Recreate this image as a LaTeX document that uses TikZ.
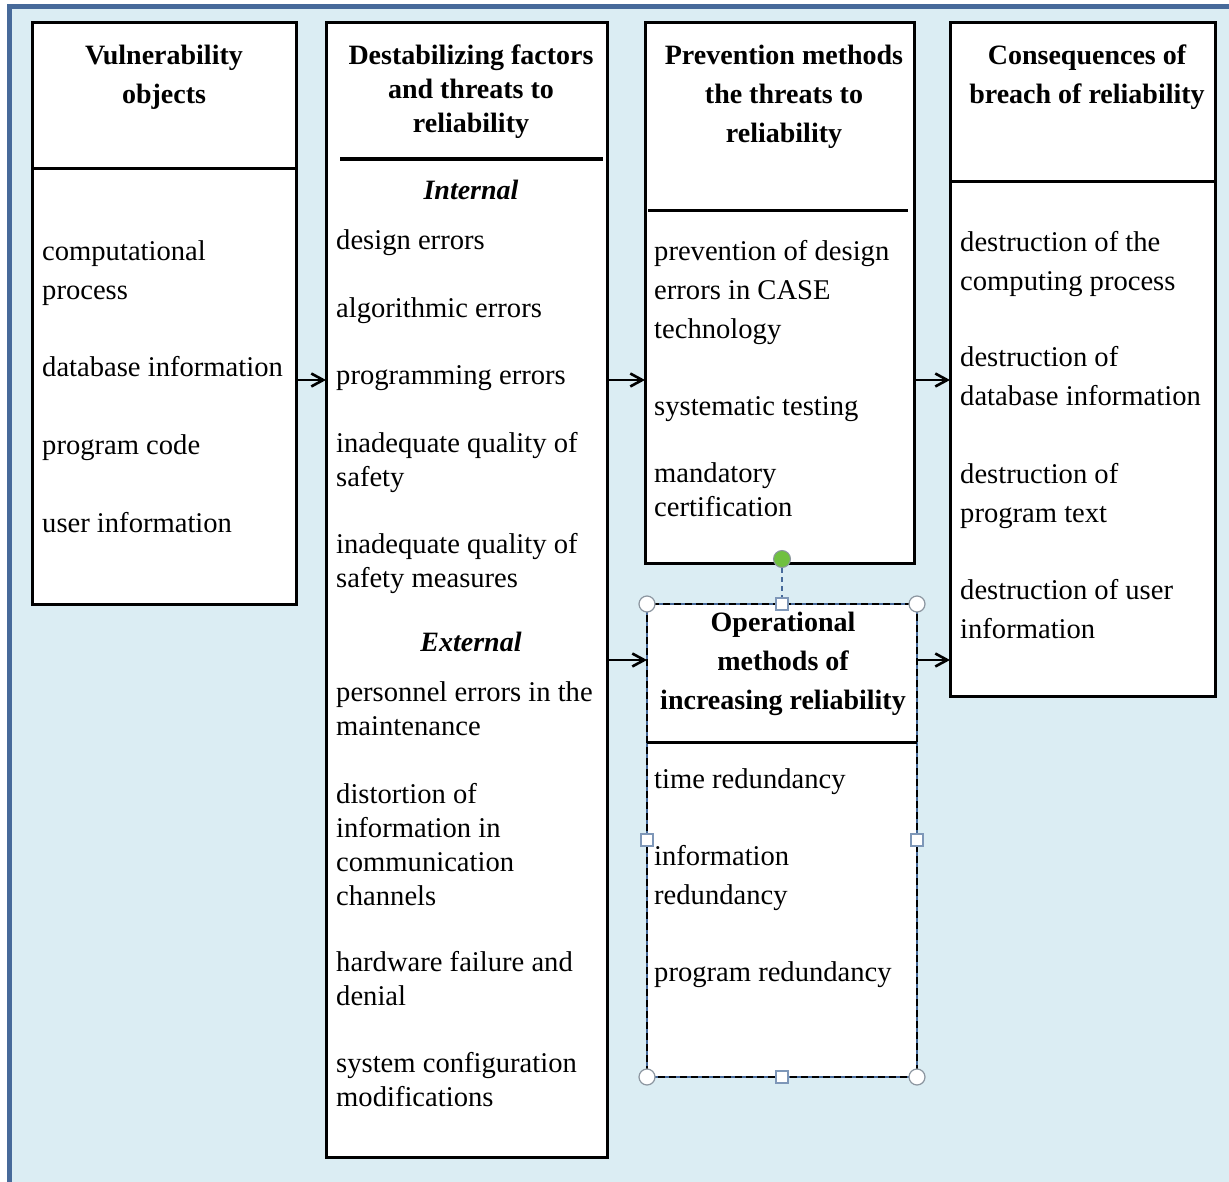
\documentclass[tikz,border=0pt]{standalone}
\usepackage{fontspec}
\setmainfont{Liberation Serif}
\usetikzlibrary{arrows.meta}
\definecolor{panelblue}{RGB}{219,237,243}
\definecolor{frameblue}{RGB}{71,106,154}
\definecolor{handlegreen}{RGB}{112,192,64}
\definecolor{handlegray}{RGB}{140,150,160}

\begin{document}
\begin{tikzpicture}[
    x=1pt, y=-1pt,
    box/.style={draw, line width=3pt, fill=white, anchor=north west, inner sep=0pt, outer sep=0pt},
    head/.style={anchor=north, align=center, inner sep=0pt, font=\fontsize{28}{39}\selectfont\bfseries},
    group/.style={anchor=north, inner sep=0pt, font=\fontsize{28}{34}\selectfont\bfseries\itshape},
    item/.style={anchor=north west, align=left, inner sep=0pt, font=\fontsize{28.6}{39}\selectfont},
    tightitem/.style={item, font=\fontsize{28.6}{34}\selectfont},
    arrow/.style={-{Straight Barb[length=12pt, width=13pt, line width=2.6pt]}, line width=2.8pt},
    handle/.style={circle, draw=handlegray, fill=white, line width=1.2pt, minimum size=16pt, inner sep=0pt},
    grip/.style={rectangle, draw=frameblue!70, fill=white, line width=1.2pt, minimum size=12pt, inner sep=0pt}
]
\useasboundingbox (0,0) rectangle (1229,1182);

% page and frame
\fill[white] (0,0) rectangle (1229,1182);
\fill[panelblue] (7,4) rectangle (1229,1182);
\fill[frameblue] (7,4) rectangle (1229,9);
\fill[frameblue] (7,4) rectangle (12,1182);

% the five boxes
\node[box, minimum width=264pt, minimum height=581pt] (vuln) at (32,23) {};
\node[box, minimum width=281pt, minimum height=1134pt] (threat) at (326,23) {};
\node[box, minimum width=269pt, minimum height=540pt] (prevent) at (645,23) {};
\node[box, minimum width=265pt, minimum height=673pt] (conseq) at (950,23) {};
\node[box, draw=frameblue, line width=1.5pt, minimum width=270pt, minimum height=473pt] (operat) at (647,604) {};
\draw[line width=2.8pt, dash pattern=on 7pt off 4pt] (operat.north west) rectangle (operat.south east);

% dividers under the headings
\draw[line width=3pt] (32,169) -- (296,169);
\draw[line width=3.4pt] (340,159) -- (603,159);
\draw[line width=3pt] (648,211) -- (908,211);
\draw[line width=3pt] (950,182) -- (1215,182);
\draw[line width=3pt] (647,742) -- (917,742);

% headings
\node[head] (vulnhead) at (164,45) {Vulnerability\\objects};
\node[head, font=\fontsize{28}{34}\selectfont\bfseries] (threathead) at (471,45) {Destabilizing factors\\and threats to\\reliability};
\node[head] (preventhead) at (784,45) {Prevention methods\\the threats to\\reliability};
\node[head] (conseqhead) at (1087,45) {Consequences of\\breach of reliability};
\node[head] (operathead) at (783,612) {Operational\\methods of\\increasing reliability};

% vulnerability objects
\node[item] (proc) at (42,240) {computational\\process};
\node[item] (dbinfo) at (42,356) {database information};
\node[item] (code) at (42,434) {program code};
\node[item] (userinfo) at (42,512) {user information};

% threats
\node[group] (internal) at (471,180) {Internal};
\node[tightitem] (design) at (336,229) {design errors};
\node[tightitem] (algo) at (336,297) {algorithmic errors};
\node[tightitem] (progerr) at (336,365) {programming errors};
\node[tightitem] (safety) at (336,432) {inadequate quality of\\safety};
\node[tightitem] (measures) at (336,533) {inadequate quality of\\safety measures};
\node[group] (external) at (471,632) {External};
\node[tightitem] (staff) at (336,681) {personnel errors in the\\maintenance};
\node[tightitem] (distort) at (336,783) {distortion of\\information in\\communication\\channels};
\node[tightitem] (hardware) at (336,951) {hardware failure and\\denial};
\node[tightitem] (config) at (336,1052) {system configuration\\modifications};

% prevention
\node[item] (casetech) at (654,240) {prevention of design\\errors in CASE\\technology};
\node[item] (testing) at (654,396) {systematic testing};
\node[tightitem] (certif) at (654,462) {mandatory\\certification};

% consequences
\node[item] (lossproc) at (960,231) {destruction of the\\computing process};
\node[item] (lossdb) at (960,346) {destruction of\\database information};
\node[item] (losscode) at (960,463) {destruction of\\program text};
\node[item] (lossuser) at (960,579) {destruction of user\\information};

% operational methods
\node[item] (timered) at (654,768) {time redundancy};
\node[item] (infored) at (654,845) {information\\redundancy};
\node[item] (progred) at (654,961) {program redundancy};

% connectors
\coordinate (midrow) at (0,380);
\coordinate (lowrow) at (0,660);
\draw[arrow] (vuln.east |- midrow) -- (threat.west |- midrow);
\draw[arrow] (threat.east |- midrow) -- (prevent.west |- midrow);
\draw[arrow] (prevent.east |- midrow) -- (conseq.west |- midrow);
\draw[arrow] (threat.east |- lowrow) -- (operat.west |- lowrow);
\draw[arrow] (operat.east |- lowrow) -- (conseq.west |- lowrow);

% selection handles
\node[circle, fill=handlegreen, draw=handlegray, line width=1pt, minimum size=17pt, inner sep=0pt] (rotor) at (782,559) {};
\node[grip] (topgrip) at (operat.north) {};
\draw[frameblue, line width=1.2pt, dash pattern=on 5pt off 4pt] (rotor) -- (topgrip);
\node[grip] (botgrip) at (operat.south) {};
\node[grip] (leftgrip) at (operat.west |- 0,840) {};
\node[grip] (rightgrip) at (operat.east |- 0,840) {};
\node[handle] (nwgrip) at (operat.north west) {};
\node[handle] (negrip) at (operat.north east) {};
\node[handle] (swgrip) at (operat.south west) {};
\node[handle] (segrip) at (operat.south east) {};

\end{tikzpicture}
\end{document}
